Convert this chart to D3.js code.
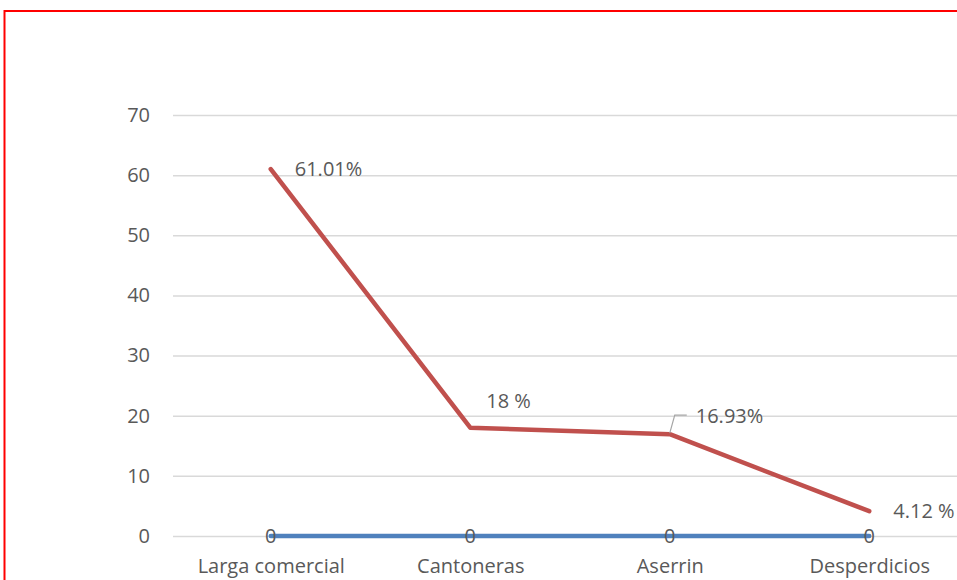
<!DOCTYPE html>
<html>
<head>
<meta charset="utf-8">
<script src="https://cdn.jsdelivr.net/npm/d3@7"></script>
<style>
  html, body { margin: 0; padding: 0; background: #fff; overflow: hidden; }
  svg { display: block; }
  text { font-family: "Open Sans", "Noto Sans", sans-serif; fill: #595959; }
</style>
</head>
<body>
<svg id="chart" width="957" height="580"></svg>
<script>
// data
var categories = ['Larga comercial', 'Cantoneras', 'Aserrin', 'Desperdicios'];
var redValues = [61.01, 18, 16.93, 4.12];
var redLabels = ['61.01%', '18 %', '16.93%', '4.12 %'];
var blueValues = [0, 0, 0, 0];
var yTicks = [0, 10, 20, 30, 40, 50, 60, 70];

var fontSize = 20;
var svg = d3.select('#chart');

// red frame, runs off the right and bottom edges
svg.append('rect')
    .attr('x', 4.5).attr('y', 11)
    .attr('width', 1000).attr('height', 700)
    .attr('fill', 'none')
    .attr('stroke', '#ff0000')
    .attr('stroke-width', 2);

var x = d3.scalePoint()
    .domain(categories)
    .range([171, 969])
    .padding(0.5);

var y = d3.scaleLinear()
    .domain([0, 70])
    .range([536, 115]);

// grid
var yAxis = d3.axisLeft(y)
    .tickValues(yTicks)
    .tickSize(-(969 - 173))
    .tickPadding(23);

var gy = svg.append('g')
    .attr('transform', 'translate(173,0)')
    .call(yAxis);
gy.select('.domain').remove();
gy.selectAll('.tick line').attr('stroke', '#d9d9d9').attr('stroke-width', 1.5);
gy.selectAll('.tick text').attr('font-size', fontSize).attr('fill', '#595959');

// category labels
var xAxis = d3.axisBottom(x).tickSize(0).tickPadding(23);
var gx = svg.append('g')
    .attr('transform', 'translate(0,536)')
    .call(xAxis);
gx.select('.domain').remove();
gx.selectAll('.tick text').attr('font-size', fontSize).attr('fill', '#595959');

var line = d3.line()
    .x(function(d, i) { return x(categories[i]); })
    .y(function(d) { return y(d); });

svg.append('path')
    .datum(blueValues)
    .attr('d', line)
    .attr('fill', 'none')
    .attr('stroke', '#4f81bd')
    .attr('stroke-width', 4.5)
    .attr('stroke-linecap', 'round');

svg.append('path')
    .datum(redValues)
    .attr('d', line)
    .attr('fill', 'none')
    .attr('stroke', '#c0504d')
    .attr('stroke-width', 4.5)
    .attr('stroke-linecap', 'round')
    .attr('stroke-linejoin', 'round');

// blue data labels sit on the line
svg.append('g').selectAll('text')
    .data(blueValues)
    .enter().append('text')
    .attr('x', function(d, i) { return x(categories[i]); })
    .attr('y', function(d) { return y(d); })
    .attr('dy', '0.35em')
    .attr('text-anchor', 'middle')
    .attr('font-size', fontSize)
    .text(function(d) { return d; });

// red data labels, offsets per label as placed in the original
var labelOffsets = [[24, 0], [16, -27], [26, -18], [24, 0]];
svg.append('g').selectAll('text')
    .data(redValues)
    .enter().append('text')
    .attr('x', function(d, i) { return x(categories[i]) + labelOffsets[i][0]; })
    .attr('y', function(d, i) { return y(d) + labelOffsets[i][1]; })
    .attr('dy', '0.35em')
    .attr('font-size', fontSize)
    .text(function(d, i) { return redLabels[i]; });

// leader line for the Aserrin label
var ax = x(categories[2]), ay = y(redValues[2]);
svg.append('path')
    .attr('d', 'M' + ax + ',' + (ay - 1) + 'L' + (ax + 5) + ',' + (ay - 19) + 'H' + (ax + 17))
    .attr('fill', 'none')
    .attr('stroke', '#a6a6a6')
    .attr('stroke-width', 1.2);
</script>
</body>
</html>
